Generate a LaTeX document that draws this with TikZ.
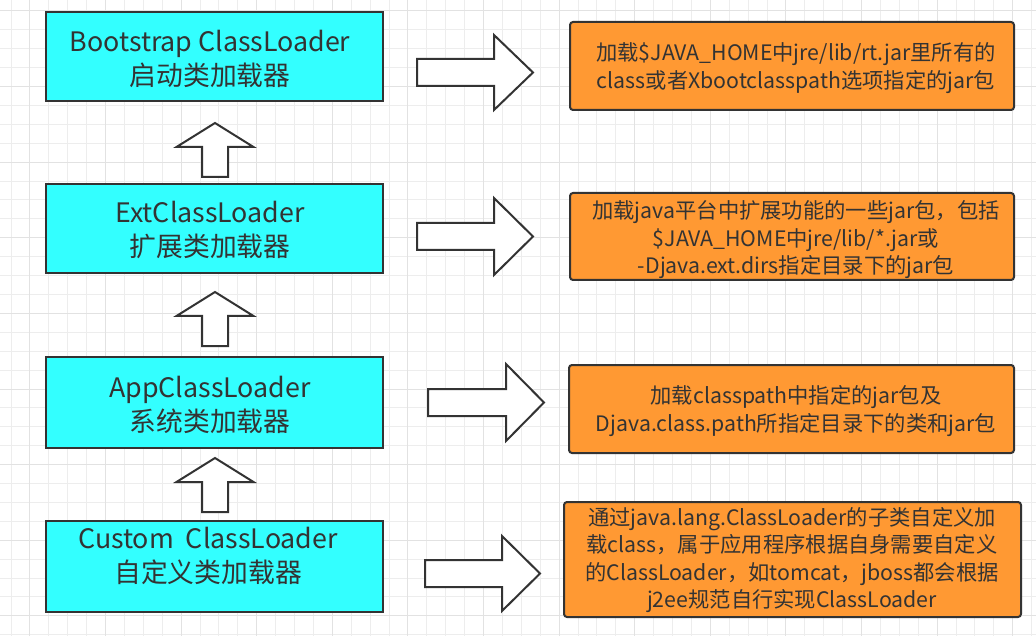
\documentclass[tikz,border=0pt]{standalone}
\usepackage{fontspec}
\setmainfont{Noto Sans CJK SC}
\definecolor{boxcyan}{HTML}{33FFFF}
\definecolor{boxorange}{HTML}{FF9933}
\definecolor{linecol}{HTML}{333333}
\definecolor{textcol}{HTML}{333333}
\definecolor{gridminor}{HTML}{EDEDED}
\definecolor{gridmajor}{HTML}{E2E2E2}
\newcommand\rblockarrow[6]{% x0, xbase, xtip, yc, head half, shaft half
  \draw[blockarrow] (#1,#4-#6) -- (#2,#4-#6) -- (#2,#4-#5) -- (#3,#4) -- (#2,#4+#5) -- (#2,#4+#6) -- (#1,#4+#6) -- cycle;}
\newcommand\ublockarrow[4]{% xc, ytip, ybase, ybottom
  \draw[blockarrow] (#1,#2) -- (#1+38.5,#3) -- (#1+13,#3) -- (#1+13,#4) -- (#1-13,#4) -- (#1-13,#3) -- (#1-38.5,#3) -- cycle;}
\begin{document}
\begin{tikzpicture}[x=1pt,y=-1pt,
  cyanbox/.style={draw=linecol, line width=2pt, fill=boxcyan, inner sep=0pt},
  orangebox/.style={draw=linecol, line width=2pt, fill=boxorange, rounded corners=3pt, inner sep=0pt},
  blockarrow/.style={draw=linecol, line width=2pt, fill=white, line join=miter},
  cyantext/.style={text=textcol, align=center, font=\fontsize{26.8}{34}\selectfont, inner sep=0pt},
  orangetext/.style={text=textcol, align=center, font=\fontsize{21.3}{27.5}\selectfont, inner sep=0pt},
  gridline/.style={draw=gridminor, line width=1pt},
  gridmaj/.style={draw=gridmajor, line width=1pt},
]
\useasboundingbox[fill=white] (0,0) rectangle (1036,636);
% grid
\foreach \i in {0,...,54} {\draw[gridline] ({11+18.9*\i},0) -- ({11+18.9*\i},636);}
\foreach \i in {0,...,33} {\draw[gridline] (0,{11+18.9*\i}) -- (1036,{11+18.9*\i});}
\foreach \i in {1,5,...,53} {\draw[gridmaj] ({11+18.9*\i},0) -- ({11+18.9*\i},636);}
\foreach \i in {0,4,...,32} {\draw[gridmaj] (0,{11+18.9*\i}) -- (1036,{11+18.9*\i});}

% left boxes
\node[cyanbox, minimum width=337pt, minimum height=89pt] (b1) at (214.5,56.5) {};
\node[cyanbox, minimum width=337pt, minimum height=89pt] (b2) at (214.5,228.5) {};
\node[cyanbox, minimum width=337pt, minimum height=91pt] (b3) at (214.5,402.5) {};
\node[cyanbox, minimum width=337pt, minimum height=91pt] (b4) at (214.5,566.5) {};
\node[cyantext] (t1) at (210,59) {Bootstrap ClassLoader\\启动类加载器};
\node[cyantext] (t2) at (210,230) {ExtClassLoader\\扩展类加载器};
\node[cyantext] (t3) at (210,405) {AppClassLoader\\系统类加载器};
\node[cyantext] (t4) at (208,556) {Custom\ \ ClassLoader\\自定义类加载器};

% right boxes
\node[orangebox, minimum width=444pt, minimum height=88pt] (o1) at (792,66) {};
\node[orangebox, minimum width=444pt, minimum height=87pt] (o2) at (792,236.5) {};
\node[orangebox, minimum width=445pt, minimum height=88pt] (o3) at (791.5,409) {};
\node[orangebox, minimum width=457pt, minimum height=115pt] (o4) at (792.5,559.5) {};
\node[orangetext] (p1) at (796,68) {加载\$JAVA\_HOME中jre/lib/rt.jar里所有的\\class或者Xbootclasspath选项指定的jar包};
\node[orangetext] (p2) at (796,240) {加载java平台中扩展功能的一些jar包，包括\\\$JAVA\_HOME中jre/lib/*.jar或\\-Djava.ext.dirs指定目录下的jar包};
\node[orangetext] (p3) at (796,411) {加载classpath中指定的jar包及\\Djava.class.path所指定目录下的类和jar包};
\node[orangetext] (p4) at (792,560) {通过java.lang.ClassLoader的子类自定义加\\载class，属于应用程序根据自身需要自定义\\的ClassLoader，如tomcat，jboss都会根据\\j2ee规范自行实现ClassLoader};

% up arrows
\ublockarrow{215}{123}{147}{177}
\ublockarrow{215}{292}{316}{346}
\ublockarrow{215}{458}{482}{512}

% right arrows
\rblockarrow{417}{494}{533}{72.5}{37.5}{13.5}
\rblockarrow{417}{494}{533}{236.5}{38.5}{13.5}
\rblockarrow{428}{506}{544}{402.5}{38.5}{13.5}
\rblockarrow{425}{502}{540}{573.5}{37.5}{13.5}
\end{tikzpicture}
\end{document}
